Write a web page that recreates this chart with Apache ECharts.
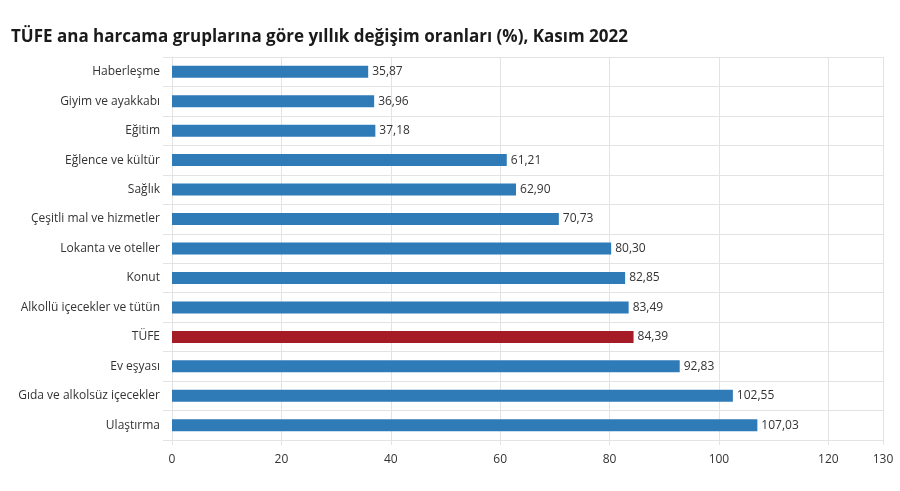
<!DOCTYPE html>
<html>
<head>
<meta charset="utf-8">
<script src="https://cdn.jsdelivr.net/npm/echarts@6/dist/echarts.min.js"></script>
<style>
	html, body { margin: 0; padding: 0; background: #fff; }
	#chart { width: 900px; height: 491px; }
</style>
</head>
<body>
<div id="chart"></div>
<script>
	"use strict";
	// kategoriler, yukaridan asagiya
	var categories = ['Haberleşme', 'Giyim ve ayakkabı', 'Eğitim', 'Eğlence ve kültür', 'Sağlık',
		'Çeşitli mal ve hizmetler', 'Lokanta ve oteller', 'Konut', 'Alkollü içecekler ve tütün',
		'TÜFE', 'Ev eşyası', 'Gıda ve alkolsüz içecekler', 'Ulaştırma'];
	var values = [35.87, 36.96, 37.18, 61.21, 62.90, 70.73, 80.30, 82.85, 83.49, 84.39, 92.83, 102.55, 107.03];
	var highlight = 'TÜFE';

	var blue = '#2f7bb8', red = '#a51b26', gridClr = '#e3e3e3';
	var font = '"Open Sans", "Noto Sans", sans-serif';

	var chart = echarts.init(document.getElementById('chart'));
	var option = {
		animation: false,
		textStyle: { fontFamily: font },
		title: {
			text: 'TÜFE ana harcama gruplarına göre yıllık değişim oranları (%), Kasım 2022',
			left: 6, top: 24,
			textStyle: { fontSize: 17, fontWeight: 'bold', color: '#1a1a1a', fontFamily: font }
		},
		grid: { left: 172, right: 17, top: 57, bottom: 51, containLabel: false },
		xAxis: {
			type: 'value', min: 0, max: 130, interval: 20,
			axisLine: { show: true, lineStyle: { color: gridClr } },
			axisTick: { show: true, length: 5, lineStyle: { color: gridClr } },
			axisLabel: { color: '#333', fontSize: 12, margin: 14, showMaxLabel: true },
			splitLine: { show: true, lineStyle: { color: gridClr } }
		},
		yAxis: {
			type: 'category', data: categories, inverse: true,
			axisLine: { show: true, lineStyle: { color: gridClr } },
			axisTick: { show: true, length: 9, lineStyle: { color: gridClr } },
			axisLabel: { color: '#333', fontSize: 12, margin: 12 },
			splitLine: { show: true, lineStyle: { color: gridClr } }
		},
		series: [{
			type: 'bar',
			barWidth: 12,
			data: values.map(function(v, i){
				return { value: v, itemStyle: { color: categories[i] == highlight ? red : blue } };
			}),
			label: {
				show: true, position: 'right', distance: 4, color: '#333', fontSize: 12,
				formatter: function(p){ return p.value.toFixed(2).replace('.', ','); }
			}
		}]
	};
	chart.setOption(option);
</script>
</body>
</html>
